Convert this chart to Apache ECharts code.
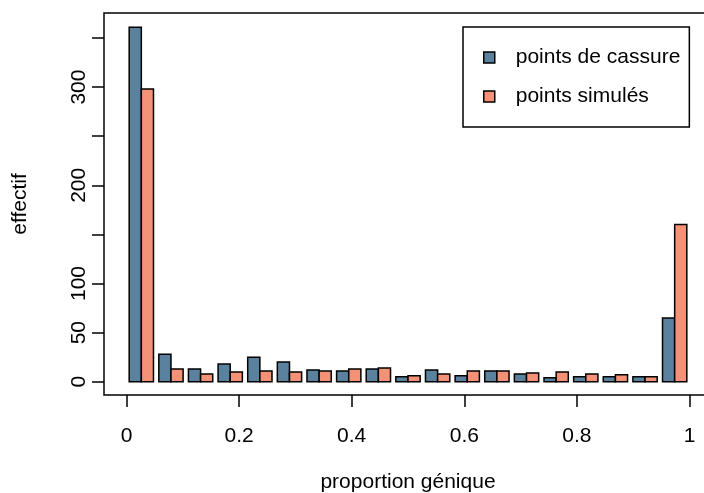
<!DOCTYPE html>
<html>
<head>
<meta charset="utf-8">
<script src="https://cdn.jsdelivr.net/npm/echarts@6/dist/echarts.min.js"></script>
<style>html,body{margin:0;padding:0;background:#fff;overflow:hidden}#c{width:712px;height:493px}</style>
</head>
<body>
<div id="c"></div>
<script>
// 19 bins of the gene proportion between 0 and 1
var binCount = 19;
var seriesNames = ['points de cassure', 'points simulés'];
var breakpoints = [361, 28, 13, 18, 25, 20, 12, 11, 13, 5, 12, 6, 11, 8, 4, 5, 5, 5, 65];
var simulated   = [298, 13, 8, 10, 11, 10, 11, 13, 14, 6, 8, 11, 11, 9, 10, 8, 7, 5, 160];
var xTickValues = [0, 0.2, 0.4, 0.6, 0.8, 1];
var xTickLabels = ['0', '0.2', '0.4', '0.6', '0.8', '1'];
var yTickValues = [0, 50, 100, 150, 200, 250, 300, 350];
var yLabelValues = [0, 50, 100, 200, 300];

var FONT = "'Liberation Sans', Arial, Helvetica, sans-serif";
var BLUE = '#5a829e';
var ORANGE = '#f39277';

function makeSeries(name, values, color, fromFrac, toFrac) {
  return {
    name: name,
    type: 'custom',
    itemStyle: { color: color, borderColor: '#000', borderWidth: 1.5 },
    data: values.map(function (v, i) { return [i, v]; }),
    renderItem: function (params, api) {
      var i = api.value(0), v = api.value(1);
      var x0 = (i + fromFrac) / binCount, x1 = (i + toFrac) / binCount;
      var p0 = api.coord([x0, v]);
      var p1 = api.coord([x1, 0]);
      return {
        type: 'rect',
        shape: { x: p0[0], y: p0[1], width: p1[0] - p0[0], height: p1[1] - p0[1] },
        style: { fill: color, stroke: '#000', lineWidth: 1.5 }
      };
    }
  };
}

var chart = echarts.init(document.getElementById('c'), null, { renderer: 'canvas' });
chart.setOption({
  animation: false,
  backgroundColor: '#fff',
  textStyle: { fontFamily: FONT },
  grid: { left: 104, top: 13, right: 0, bottom: 98, outerBoundsMode: 'none', containLabel: false, show: true, borderColor: '#000', borderWidth: 1.5, backgroundColor: 'transparent' },
  legend: {
    left: 463, top: 27, orient: 'vertical',
    data: seriesNames,
    icon: 'rect', itemWidth: 11, itemHeight: 11, itemGap: 18,
    padding: [20, 9, 20, 20],
    borderColor: '#000', borderWidth: 1.5,
    itemStyle: { borderColor: '#000', borderWidth: 1.5 },
    textStyle: { fontFamily: FONT, fontSize: 21, color: '#000', lineHeight: 20, padding: [0, 0, 0, 16] }
  },
  xAxis: {
    type: 'value', min: -0.04, max: 1.04,
    name: 'proportion génique', nameLocation: 'middle', nameGap: 77,
    nameTextStyle: { fontFamily: FONT, fontSize: 21, color: '#000' },
    axisLine: { show: false, onZero: false },
    splitLine: { show: false },
    axisTick: { show: true, inside: false, length: 12, customValues: xTickValues, lineStyle: { color: '#000', width: 1.5 } },
    axisLabel: {
      customValues: xTickValues, margin: 31, fontFamily: FONT, fontSize: 21, color: '#000',
      formatter: function (v) { var k = xTickValues.indexOf(v); return k >= 0 ? xTickLabels[k] : ''; }
    }
  },
  yAxis: {
    type: 'value', min: -13.5, max: 375.4,
    name: 'effectif', nameLocation: 'middle', nameGap: 73, nameRotate: 90,
    nameTextStyle: { fontFamily: FONT, fontSize: 21, color: '#000' },
    axisLine: { show: false, onZero: false },
    splitLine: { show: false },
    axisTick: { show: true, inside: false, length: 12, customValues: yTickValues, lineStyle: { color: '#000', width: 1.5 } },
    axisLabel: { customValues: yLabelValues, margin: 14, rotate: 90, fontFamily: FONT, fontSize: 21, color: '#000' }
  },
  series: [
    makeSeries(seriesNames[0], breakpoints, BLUE, 0.09, 0.5),
    makeSeries(seriesNames[1], simulated, ORANGE, 0.5, 0.91)
  ]
});
</script>
</body>
</html>
